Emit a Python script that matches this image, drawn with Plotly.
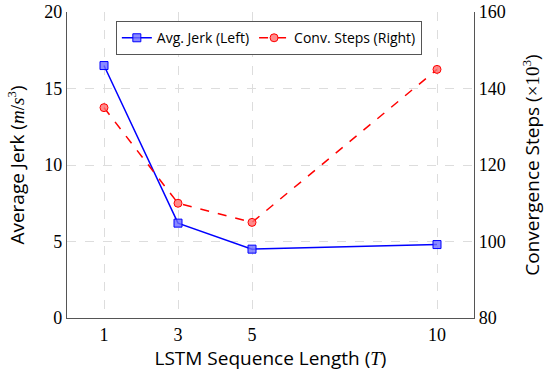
import plotly.graph_objects as go

seq_len = [1, 3, 5, 10]
avg_jerk = [16.5, 6.2, 4.5, 4.8]
conv_steps = [135, 110, 105, 145]
x_ticks = [1, 3, 5, 10]
left_ticks = [0, 5, 10, 15, 20]
right_ticks = [80, 100, 120, 140, 160]

SERIF = "Liberation Serif, DejaVu Serif, serif"
SANS = "Open Sans, Noto Sans, sans-serif"

fig = go.Figure()
fig.add_trace(go.Scatter(
    x=seq_len, y=avg_jerk, name="Avg. Jerk (Left)", mode="lines+markers",
    line=dict(color="#0000ff", width=1.5),
    marker=dict(symbol="square", size=8, color="rgba(110,110,255,0.8)",
                line=dict(color="#0000ff", width=1)),
    yaxis="y"))
fig.add_trace(go.Scatter(
    x=seq_len, y=conv_steps, name="Conv. Steps (Right)", mode="lines+markers",
    line=dict(color="#ff0000", width=1.5, dash="dash"),
    marker=dict(symbol="circle", size=8, color="rgba(255,110,110,0.8)",
                line=dict(color="#ff0000", width=1)),
    yaxis="y2"))

def sf(s):
    return f"<span style='font-family:{SERIF}'>{s}</span>"

def it(s):
    return sf(f"<i>{s}</i>")

fig.update_layout(
    width=550, height=376,
    margin=dict(l=67, r=76, t=12, b=58),
    plot_bgcolor="white", paper_bgcolor="white",
    font=dict(family=SANS, size=19, color="black"),
    showlegend=True,
    legend=dict(orientation="h", x=0.12, xanchor="left", y=0.97, yanchor="top",
                bordercolor="#555555", borderwidth=1, bgcolor="white",
                font=dict(family=SANS, size=14), itemwidth=30,
                tracegroupgap=0),
    xaxis=dict(range=[0, 11], tickvals=x_ticks, ticktext=[str(v) for v in x_ticks],
               tickfont=dict(family=SERIF, size=18), automargin=False,
               showgrid=True, gridcolor="#dddddd", griddash="dash", gridwidth=1,
               showline=True, linecolor="#555555", linewidth=1.2, zeroline=False,
               title=dict(text="LSTM Sequence Length (" + it("T") + ")", font=dict(size=19), standoff=6)),
    yaxis=dict(range=[0, 20], tickvals=left_ticks, ticktext=[str(v) for v in left_ticks],
               tickfont=dict(family=SERIF, size=18), automargin=False,
               showgrid=True, gridcolor="#dddddd", griddash="dash", gridwidth=1,
               showline=True, linecolor="#555555", linewidth=1.2, zeroline=False,
               title=dict(text="Average Jerk (" + it("m") + sf("/") + it("s") + "<sup>" + sf("3") + "</sup>)",
                          font=dict(size=19), standoff=14)),
    yaxis2=dict(range=[80, 160], tickvals=right_ticks, ticktext=[str(v) for v in right_ticks],
                overlaying="y", side="right", automargin=False,
                tickfont=dict(family=SERIF, size=18),
                showgrid=False, showline=True, linecolor="#555555", linewidth=1.2, zeroline=False,
                title=dict(text="Convergence Steps (" + sf("×10<sup>3</sup>") + ")",
                           font=dict(size=19), standoff=20)),
)

fig.write_html("out.html", config={"displayModeBar": False},
               post_script="document.body.style.margin='0';")
